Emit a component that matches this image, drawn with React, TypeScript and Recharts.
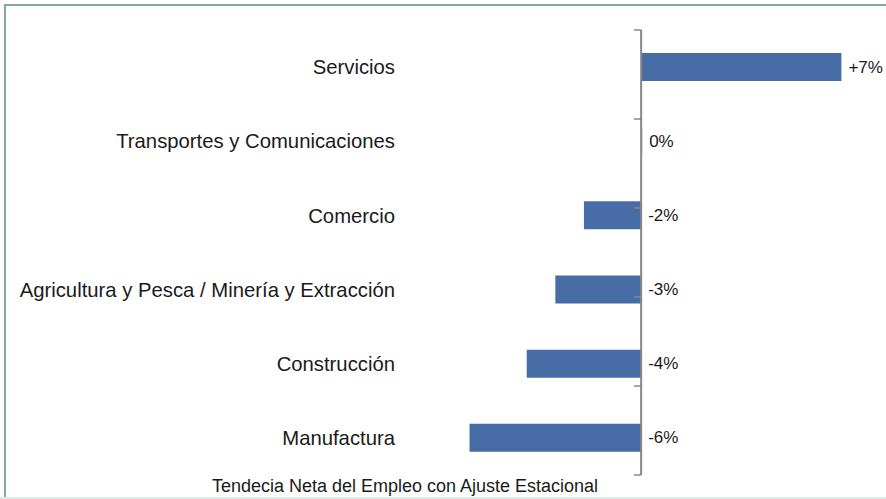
import React from 'react'
import { BarChart, Bar, XAxis, YAxis, ReferenceLine, LabelList } from 'recharts'

const categories = [
  'Servicios',
  'Transportes y Comunicaciones',
  'Comercio',
  'Agricultura y Pesca / Minería y Extracción',
  'Construcción',
  'Manufactura',
]
const values = [7, 0, -2, -3, -4, -6]
const valueLabels = ['+7%', '0%', '-2%', '-3%', '-4%', '-6%']
const boundaries = [0, 1, 2, 3, 4, 5, 6]

const data = categories.map((name, i) => ({ name, value: values[i], label: valueLabels[i] }))

const FONT = '"Liberation Sans", Arial, sans-serif'
const BAR = '#476CA6'
const AXIS = '#878787'

const ValueLabel = (props: any) => {
  const { x, y, width, height, value } = props
  const right = Math.max(x, x + width)
  return (
    <text
      x={right + 7}
      y={y + height / 2}
      dominantBaseline="central"
      fontSize={17}
      fill="#1a1a1a"
      fontFamily={FONT}
    >
      {value}
    </text>
  )
}

export default function App() {
  return (
    <div style={{ position: 'relative', width: 886, height: 499, overflow: 'hidden', background: '#fff', fontFamily: FONT }}>
      <style>{`body{margin:0}`}</style>
      {/* frame */}
      <div style={{ position: 'absolute', left: 4, top: 4, width: 900, height: 492, borderTop: '2px solid #84A995', borderLeft: '2px solid #84A995' }} />
      <div style={{ position: 'absolute', left: 0, top: 497, width: 886, height: 2, background: '#E3EBE9' }} />

      <div style={{ position: 'absolute', left: 0, top: 0 }}>
        <BarChart
          width={886}
          height={499}
          data={data}
          layout="vertical"
          margin={{ top: 30, right: 16, bottom: 24, left: 0 }}
        >
          <XAxis type="number" domain={[-8.5, 8]} allowDataOverflow hide />
          <YAxis
            type="category"
            dataKey="name"
            width={398}
            interval={0}
            axisLine={false}
            tickLine={false}
            tickSize={0}
            tickMargin={3}
            tick={{ fill: '#1a1a1a', fontSize: 20.3, fontFamily: FONT }}
          />
          <YAxis yAxisId="g" type="number" domain={[0, 6]} allowDataOverflow hide />
          <Bar dataKey="value" fill={BAR} barSize={28} minPointSize={1} isAnimationActive={false}>
            <LabelList dataKey="label" content={<ValueLabel />} />
          </Bar>
          <ReferenceLine x={0} stroke={AXIS} strokeWidth={2} />
          {boundaries.map((b) => (
            <ReferenceLine
              key={b}
              yAxisId="g"
              segment={[{ x: -0.25, y: b }, { x: 0, y: b }]}
              stroke={AXIS}
              strokeWidth={1.5}
            />
          ))}
        </BarChart>
      </div>

      <div style={{ position: 'absolute', left: 0, top: 476, width: 810, textAlign: 'center', fontSize: 18, color: '#1a1a1a', lineHeight: '20px' }}>
        Tendecia Neta del Empleo con Ajuste Estacional
      </div>
    </div>
  )
}
